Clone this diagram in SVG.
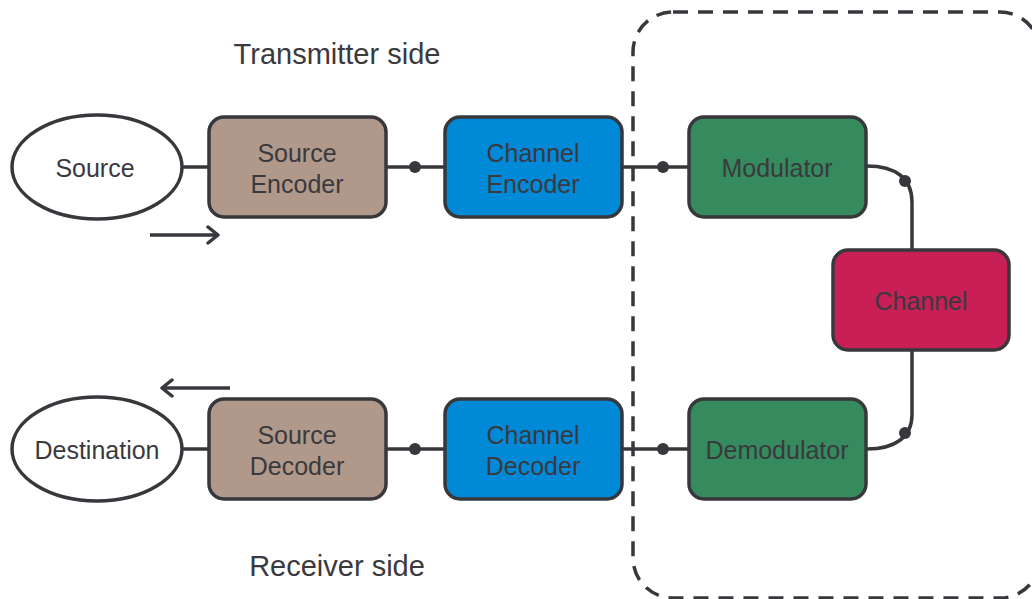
<svg xmlns="http://www.w3.org/2000/svg" width="1032" height="599" viewBox="0 0 1032 599">
  <style>
    .lbl { font-family: "Liberation Sans", Arial, sans-serif; font-size: 25px; fill: #3a393e; text-anchor: middle; }
    .side { font-family: "Liberation Sans", Arial, sans-serif; font-size: 29px; fill: #3a393e; text-anchor: middle; }
    .box { stroke: #38373c; stroke-width: 3.5; }
    .term { fill: #ffffff; stroke: #38373c; stroke-width: 3.5; }
    .wire { fill: none; stroke: #38373c; stroke-width: 3.5; }
    .dot { fill: #38373c; }
    .src { fill: #b0998a; }
    .chn { fill: #0089d6; }
    .mod { fill: #368b5e; }
    .med { fill: #c81f56; }
  </style>
  <defs>
    <marker id="head" viewBox="0 0 14 20" refX="12" refY="10" markerWidth="14" markerHeight="20" markerUnits="userSpaceOnUse" orient="auto">
      <path d="M2,2 L12,10 L2,18" fill="none" stroke="#38373c" stroke-width="3.5" stroke-linecap="round" stroke-linejoin="round"/>
    </marker>
  </defs>

  <!-- boundary of the transmission path -->
  <rect id="channel-region" x="633" y="12" width="407" height="586" rx="40" fill="none" stroke="#38373c" stroke-width="3.5" stroke-dasharray="15 10"/>

  <!-- section titles -->
  <text class="side" x="337" y="64">Transmitter side</text>
  <text class="side" x="337" y="576">Receiver side</text>

  <!-- connectors -->
  <g id="connectors">
    <line class="wire" x1="183" y1="167" x2="208" y2="167"/>
    <line class="wire" x1="386" y1="167" x2="444" y2="167"/>
    <line class="wire" x1="622" y1="167" x2="688" y2="167"/>
    <path class="wire" d="M867,166 C895,166 912,178 912,202 V250"/>
    <path class="wire" d="M912,350 V415 C912,437 895,449 867,449"/>
    <line class="wire" x1="183" y1="449" x2="208" y2="449"/>
    <line class="wire" x1="386" y1="449" x2="444" y2="449"/>
    <line class="wire" x1="622" y1="449" x2="688" y2="449"/>
    <circle class="dot" cx="415" cy="167" r="6"/>
    <circle class="dot" cx="663" cy="167" r="6"/>
    <circle class="dot" cx="905" cy="181" r="6"/>
    <circle class="dot" cx="905" cy="433" r="6"/>
    <circle class="dot" cx="415" cy="449" r="6"/>
    <circle class="dot" cx="663" cy="449" r="6"/>
    <!-- direction of flow -->
    <line class="wire" x1="150" y1="235" x2="218" y2="235" marker-end="url(#head)"/>
    <line class="wire" x1="230" y1="388" x2="162" y2="388" marker-end="url(#head)"/>
  </g>

  <!-- transmitter chain -->
  <g id="source">
    <ellipse class="term" cx="97" cy="167" rx="85" ry="52"/>
    <text class="lbl" x="95" y="177">Source</text>
  </g>
  <g id="source-encoder">
    <rect class="box src" x="209" y="117" width="177" height="100" rx="15"/>
    <text class="lbl" x="297" y="162">Source</text>
    <text class="lbl" x="297" y="193">Encoder</text>
  </g>
  <g id="channel-encoder">
    <rect class="box chn" x="445" y="117" width="177" height="100" rx="15"/>
    <text class="lbl" x="533" y="162">Channel</text>
    <text class="lbl" x="533" y="193">Encoder</text>
  </g>
  <g id="modulator">
    <rect class="box mod" x="689" y="117" width="177" height="100" rx="15"/>
    <text class="lbl" x="777" y="177">Modulator</text>
  </g>

  <!-- medium -->
  <g id="channel">
    <rect class="box med" x="833" y="250" width="176" height="100" rx="15"/>
    <text class="lbl" x="921" y="310">Channel</text>
  </g>

  <!-- receiver chain -->
  <g id="demodulator">
    <rect class="box mod" x="689" y="399" width="177" height="100" rx="15"/>
    <text class="lbl" x="777" y="459">Demodulator</text>
  </g>
  <g id="channel-decoder">
    <rect class="box chn" x="445" y="399" width="177" height="100" rx="15"/>
    <text class="lbl" x="533" y="444">Channel</text>
    <text class="lbl" x="533" y="475">Decoder</text>
  </g>
  <g id="source-decoder">
    <rect class="box src" x="209" y="399" width="177" height="100" rx="15"/>
    <text class="lbl" x="297" y="444">Source</text>
    <text class="lbl" x="297" y="475">Decoder</text>
  </g>
  <g id="destination">
    <ellipse class="term" cx="97" cy="449" rx="85" ry="52"/>
    <text class="lbl" x="97" y="459">Destination</text>
  </g>
</svg>
